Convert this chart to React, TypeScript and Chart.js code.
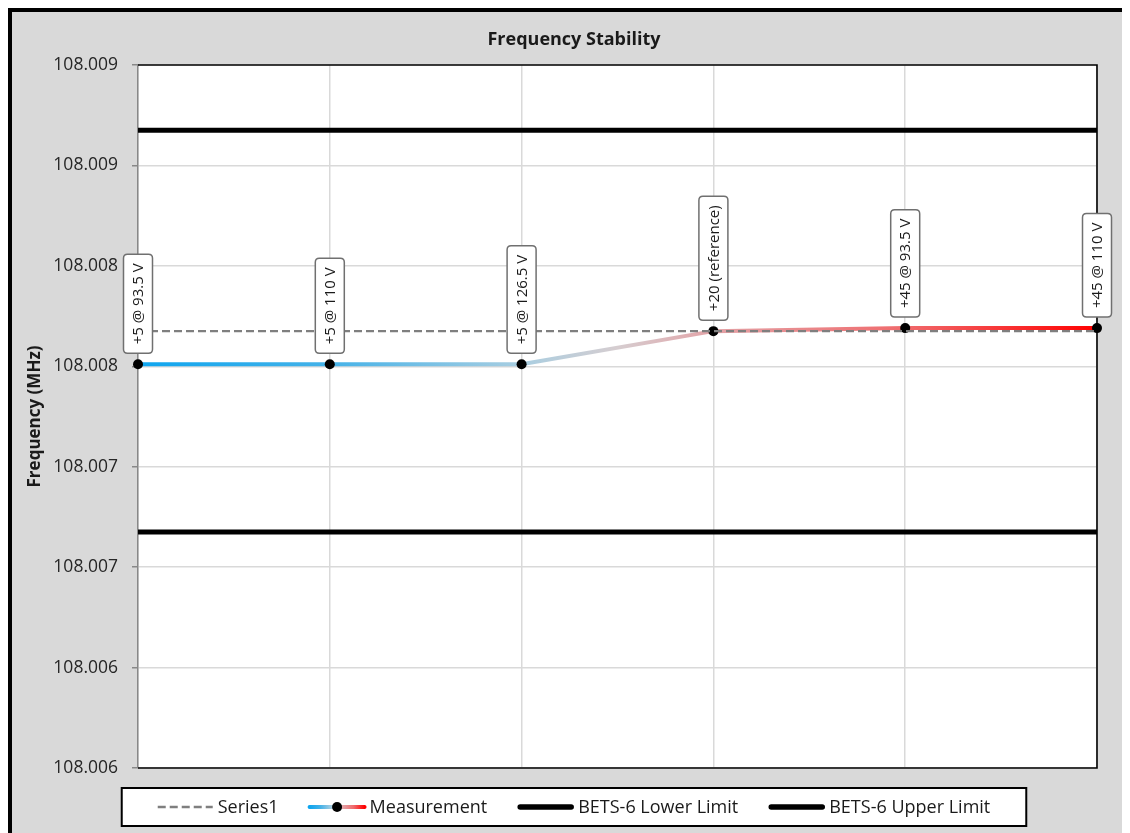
import React, { useEffect, useRef } from "react";
import { Chart, registerables } from "chart.js";

Chart.register(...registerables);

// ---- data ----
const categories = [
  "+5 @ 93.5 V",
  "+5 @ 110 V",
  "+5 @ 126.5 V",
  "+20 (reference)",
  "+45 @ 93.5 V",
  "+45 @ 110 V",
];
const measurement = [108.00801, 108.00801, 108.00801, 108.008175, 108.00819, 108.00819];
const series1 = [108.008175, 108.008175, 108.008175, 108.008175, 108.008175, 108.008175];
const lowerLimit = [108.007175, 108.007175, 108.007175, 108.007175, 108.007175, 108.007175];
const upperLimit = [108.009175, 108.009175, 108.009175, 108.009175, 108.009175, 108.009175];
const yMin = 108.006;
const yMax = 108.0095;
const yStep = 0.0005;
const yTickLabels = ["108.006", "108.006", "108.007", "108.007", "108.008", "108.008", "108.009", "108.009"];
const chartTitle = "Frequency Stability";
const yAxisTitle = "Frequency (MHz)";
const legendNames = ["Series1", "Measurement", "BETS-6 Lower Limit", "BETS-6 Upper Limit"];

const W = 1130;
const H = 830;
const FONT = "'Open Sans', 'Noto Sans', sans-serif";

function makeGradient(ctx: CanvasRenderingContext2D, x0: number, x1: number) {
  const g = ctx.createLinearGradient(x0, 0, x1, 0);
  g.addColorStop(0, "#0ea5ef");
  g.addColorStop(0.2, "#45b2e8");
  g.addColorStop(0.4, "#a9cee1");
  g.addColorStop(0.5, "#d6cdd0");
  g.addColorStop(0.6, "#e3a3a7");
  g.addColorStop(0.8, "#f06a6c");
  g.addColorStop(1, "#ff0000");
  return g;
}

function roundRect(ctx: CanvasRenderingContext2D, x: number, y: number, w: number, h: number, r: number) {
  ctx.beginPath();
  ctx.moveTo(x + r, y);
  ctx.lineTo(x + w - r, y);
  ctx.quadraticCurveTo(x + w, y, x + w, y + r);
  ctx.lineTo(x + w, y + h - r);
  ctx.quadraticCurveTo(x + w, y + h, x + w - r, y + h);
  ctx.lineTo(x + r, y + h);
  ctx.quadraticCurveTo(x, y + h, x, y + h - r);
  ctx.lineTo(x, y + r);
  ctx.quadraticCurveTo(x, y, x + r, y);
  ctx.closePath();
}

const decorPlugin = {
  id: "decor",
  beforeDraw(chart: any) {
    const { ctx, chartArea: a } = chart;
    ctx.save();
    ctx.fillStyle = "#ffffff";
    ctx.fillRect(a.left, a.top, a.right - a.left, a.bottom - a.top);
    ctx.restore();
  },
  beforeDatasetsDraw(chart: any) {
    const { ctx, chartArea: a } = chart;
    ctx.save();
    ctx.strokeStyle = "#000";
    ctx.lineWidth = 1.6;
    ctx.beginPath();
    ctx.moveTo(a.left, a.top);
    ctx.lineTo(a.right, a.top);
    ctx.lineTo(a.right, a.bottom);
    ctx.lineTo(a.left, a.bottom);
    ctx.stroke();
    ctx.restore();
  },
  afterDatasetsDraw(chart: any) {
    const { ctx } = chart;
    const meta = chart.getDatasetMeta(3);
    ctx.save();
    ctx.font = `15px ${FONT}`;
    meta.data.forEach((pt: any, i: number) => {
      const text = categories[i];
      const tw = ctx.measureText(text).width;
      const bw = 29;
      const bh = tw + 18;
      const bottom = pt.y - 11;
      const x = pt.x - bw / 2;
      const y = bottom - bh;
      roundRect(ctx, x, y, bw, bh, 4);
      ctx.fillStyle = "#ffffff";
      ctx.fill();
      ctx.strokeStyle = "#707070";
      ctx.lineWidth = 1.5;
      ctx.stroke();
      ctx.save();
      ctx.translate(pt.x, bottom - bh / 2);
      ctx.rotate(-Math.PI / 2);
      ctx.fillStyle = "#1a1a1a";
      ctx.textAlign = "center";
      ctx.textBaseline = "middle";
      ctx.fillText(text, 0, 1);
      ctx.restore();
    });
    ctx.restore();
  },
  afterDraw(chart: any) {
    const { ctx, chartArea: a } = chart;
    const cx = 562;
    ctx.save();
    // title
    ctx.fillStyle = "#1a1a1a";
    ctx.font = `bold 18px ${FONT}`;
    ctx.textAlign = "center";
    ctx.textBaseline = "middle";
    ctx.fillText(chartTitle, cx, 28);
    // y axis title
    ctx.save();
    ctx.translate(23, (a.top + a.bottom) / 2);
    ctx.rotate(-Math.PI / 2);
    ctx.font = `bold 17px ${FONT}`;
    ctx.fillText(yAxisTitle, 0, 0);
    ctx.restore();

    // legend
    ctx.font = `18px ${FONT}`;
    const sampleW = 55;
    const gapS = 5;
    const gapItem = 31;
    const widths = legendNames.map((n) => ctx.measureText(n).width);
    let content = 0;
    widths.forEach((w, i) => {
      content += sampleW + gapS + w + (i < widths.length - 1 ? gapItem : 0);
    });
    const padX = 36;
    const boxW = content + padX * 2;
    const boxX = cx - boxW / 2;
    const boxY = 776;
    const boxH = 38;
    ctx.fillStyle = "#ffffff";
    ctx.fillRect(boxX, boxY, boxW, boxH);
    ctx.strokeStyle = "#000";
    ctx.lineWidth = 2;
    ctx.strokeRect(boxX, boxY, boxW, boxH);
    const ly = boxY + boxH / 2;
    let x = boxX + padX;
    legendNames.forEach((name, i) => {
      ctx.save();
      if (i === 0) {
        ctx.strokeStyle = "#7f7f7f";
        ctx.lineWidth = 2.5;
        ctx.setLineDash([8, 4]);
        ctx.beginPath();
        ctx.moveTo(x, ly);
        ctx.lineTo(x + sampleW, ly);
        ctx.stroke();
      } else if (i === 1) {
        ctx.strokeStyle = makeGradient(ctx, x, x + sampleW);
        ctx.lineWidth = 4;
        ctx.lineCap = "round";
        ctx.beginPath();
        ctx.moveTo(x, ly);
        ctx.lineTo(x + sampleW, ly);
        ctx.stroke();
        ctx.fillStyle = "#000";
        ctx.beginPath();
        ctx.arc(x + sampleW / 2, ly, 5, 0, Math.PI * 2);
        ctx.fill();
      } else {
        ctx.strokeStyle = "#000";
        ctx.lineWidth = 5.5;
        ctx.lineCap = "round";
        ctx.beginPath();
        ctx.moveTo(x + 2, ly);
        ctx.lineTo(x + sampleW - 2, ly);
        ctx.stroke();
      }
      ctx.restore();
      x += sampleW + gapS;
      ctx.fillStyle = "#1a1a1a";
      ctx.textAlign = "left";
      ctx.textBaseline = "middle";
      ctx.fillText(name, x, ly + 1);
      x += widths[i] + gapItem;
    });
    ctx.restore();
  },
};

export default function App() {
  const ref = useRef<HTMLCanvasElement | null>(null);

  useEffect(() => {
    const prevOverflow = document.body.style.overflow;
    document.body.style.overflow = "hidden";
    if (!ref.current) return;
    const chart = new Chart(ref.current, {
      type: "line",
      data: {
        labels: categories,
        datasets: [
          {
            label: legendNames[3],
            data: upperLimit,
            borderColor: "#000",
            borderWidth: 5,
            pointRadius: 0,
          },
          {
            label: legendNames[2],
            data: lowerLimit,
            borderColor: "#000",
            borderWidth: 5,
            pointRadius: 0,
          },
          {
            label: legendNames[0],
            data: series1,
            borderColor: "#7f7f7f",
            borderWidth: 2.2,
            borderDash: [8, 4],
            pointRadius: 0,
          },
          {
            label: legendNames[1],
            data: measurement,
            borderWidth: 4,
            borderColor: (c: any) => {
              const area = c.chart.chartArea;
              if (!area) return "#0ea5ef";
              return makeGradient(c.chart.ctx, area.left, area.right);
            },
            pointRadius: 5,
            pointBackgroundColor: "#000",
            pointBorderColor: "#000",
            pointBorderWidth: 0,
            clip: false as any,
          },
        ],
      },
      options: {
        responsive: true,
        maintainAspectRatio: false,
        animation: false,
        events: [],
        layout: { padding: { left: 0, top: 53, right: W - 1085, bottom: H - 756 } },
        plugins: {
          legend: { display: false },
          title: { display: false },
          tooltip: { enabled: false },
        },
        scales: {
          x: {
            type: "category",
            offset: false,
            ticks: { display: false },
            grid: { color: "#d9d9d9", lineWidth: 1.5, drawTicks: false },
            border: { display: false },
            afterFit: (s: any) => {
              s.height = 0;
            },
          },
          y: {
            min: yMin,
            max: yMax,
            ticks: {
              stepSize: yStep,
              color: "#262626",
              font: { family: FONT, size: 17.5 },
              padding: 14,
              callback: (_v: any, i: number) => yTickLabels[i],
            },
            grid: { color: "#d9d9d9", lineWidth: 1.5, tickLength: 6, tickColor: "#888888" },
            border: { color: "#888888", width: 1.5 },
            afterFit: (s: any) => {
              s.width = 126;
            },
          },
        },
      },
      plugins: [decorPlugin],
    });
    return () => {
      chart.destroy();
      document.body.style.overflow = prevOverflow;
    };
  }, []);

  return (
    <div
      style={{
        border: "4px solid #000",
        background: "#d9d9d9",
        width: 1140,
        height: 860,
        boxSizing: "content-box",
      }}
    >
      <div style={{ position: "relative", width: W, height: H }}>
        <canvas ref={ref} />
      </div>
    </div>
  );
}
